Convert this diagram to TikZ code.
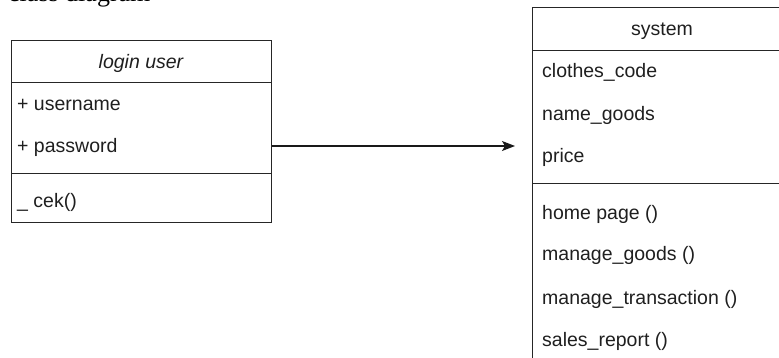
\documentclass[tikz,border=0pt]{standalone}
\usepackage{fontspec}
\setmainfont{Liberation Sans}
\newfontfamily\titlefont{Liberation Serif}
\usetikzlibrary{arrows.meta}
\tikzset{
  comp/.style={draw=black!85, line width=1.2pt, rectangle, anchor=north west, inner sep=0pt},
  txt/.style={anchor=base west, inner sep=0pt, text=black!88, font=\fontsize{19.5}{23}\selectfont},
  ctxt/.style={anchor=base, inner sep=0pt, text=black!88, font=\fontsize{19.5}{23}\selectfont},
  conn/.style={draw=black!90, line width=1.2pt, -{Stealth[length=13pt,width=10pt,inset=3pt]}}
}
\begin{document}
\begin{tikzpicture}[x=1pt,y=-1pt]
\useasboundingbox (0,0) rectangle (779,358);
\clip (0,0) rectangle (779,358);
% clipped heading
\node[anchor=base west, inner sep=0pt] (heading) at (8,1.5) {\titlefont\fontsize{26}{30}\selectfont class diagram};
% login user class
\node[comp, minimum width=260pt, minimum height=42pt] (lt) at (11,40) {};
\node[comp, minimum width=260pt, minimum height=91pt] (la) at (11,82) {};
\node[comp, minimum width=260pt, minimum height=49pt] (lm) at (11,173) {};
\node[ctxt, font=\itshape\fontsize{19.5}{23}\selectfont] (ltitle) at (141,69) {login user};
\node[txt] (un) at (17,111) {+ username};
\node[txt] (pw) at (17,153) {+ password};
\node[txt] (cek) at (17,208) {\_ cek()};
% system class
\node[comp, minimum width=260pt, minimum height=43pt] (rt) at (532,7) {};
\node[comp, minimum width=260pt, minimum height=133pt] (ra) at (532,50) {};
\node[comp, minimum width=260pt, minimum height=200pt] (rm) at (532,183) {};
\node[ctxt] (stitle) at (662,36) {system};
\node[txt] (a1) at (542,78) {clothes\_code};
\node[txt] (a2) at (542,121) {name\_goods};
\node[txt] (a3) at (542,163) {price};
\node[txt] (m1) at (542,219) {home page ()};
\node[txt] (m2) at (542,261) {manage\_goods ()};
\node[txt] (m3) at (542,304) {manage\_transaction ()};
\node[txt] (m4) at (542,346) {sales\_report ()};
% connector
\coordinate (aend) at (515,146);
\draw[conn] (la.east |- aend) -- (aend);
\end{tikzpicture}
\end{document}
